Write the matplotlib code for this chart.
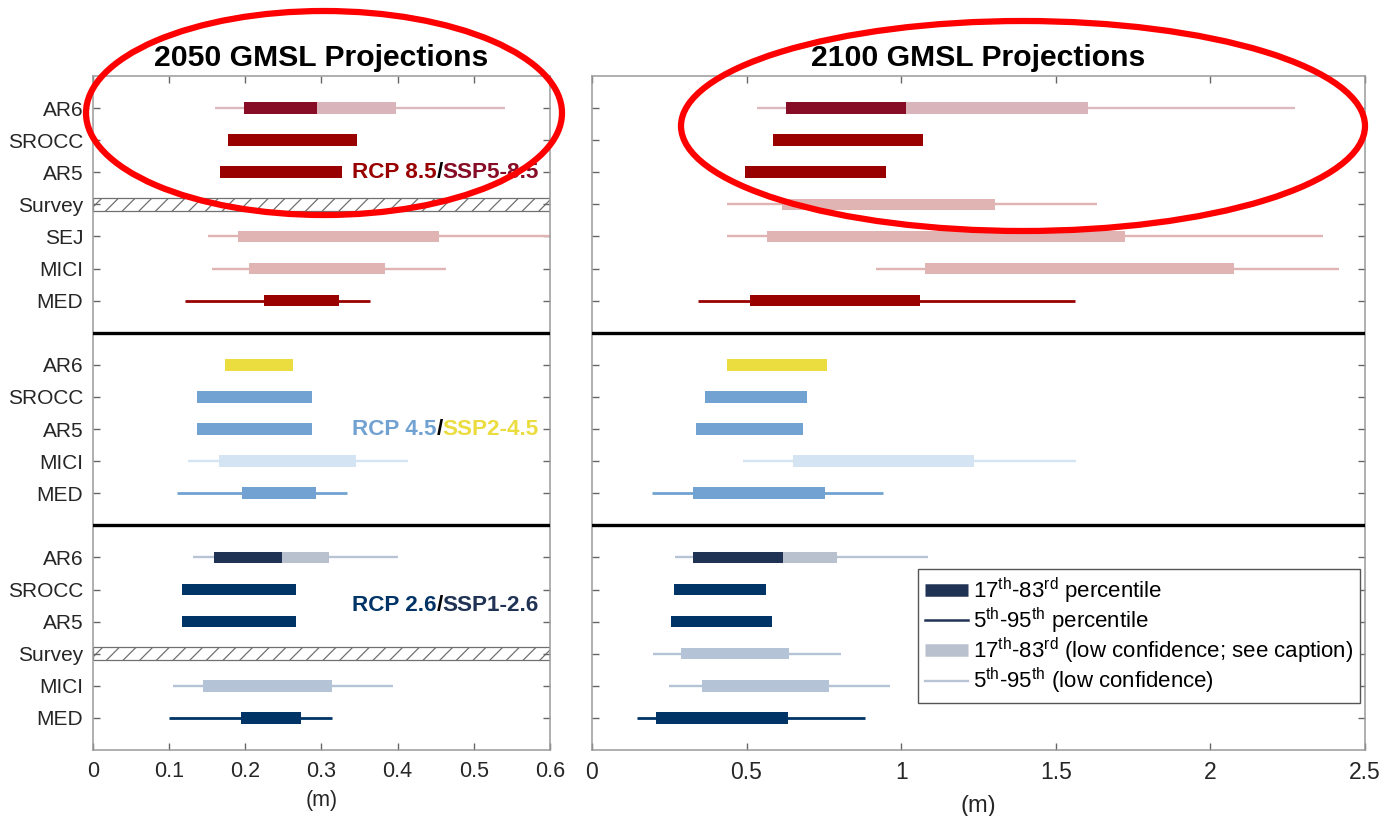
import numpy as np
import matplotlib
matplotlib.use('Agg')
import matplotlib.pyplot as plt
from matplotlib.lines import Line2D
from matplotlib.patches import Ellipse

plt.rcParams['font.family'] = ['Liberation Sans', 'DejaVu Sans']
plt.rcParams['mathtext.fontset'] = 'custom'
plt.rcParams['mathtext.rm'] = 'Liberation Sans'
plt.rcParams['mathtext.it'] = 'Liberation Sans:italic'
plt.rcParams['hatch.linewidth'] = 0.9

nan = np.nan

# row labels for each scenario block
labels_85 = ['AR6', 'SROCC', 'AR5', 'Survey', 'SEJ', 'MICI', 'MED']
labels_45 = ['AR6', 'SROCC', 'AR5', 'MICI', 'MED']
labels_26 = ['AR6', 'SROCC', 'AR5', 'Survey', 'MICI', 'MED']

# 2050 GMSL (m): 5th, 17th, 83rd, 95th percentiles
q05_2050_85 = [0.160, nan, nan, nan, 0.151, 0.156, 0.121]
q17_2050_85 = [0.198, 0.177, 0.167, nan, 0.190, 0.205, 0.225]
q83_2050_85 = [0.398, 0.347, 0.327, nan, 0.454, 0.384, 0.323]
q95_2050_85 = [0.541, nan, nan, nan, 0.600, 0.464, 0.364]

q05_2050_45 = [nan, nan, nan, 0.125, 0.111]
q17_2050_45 = [0.174, 0.137, 0.137, 0.165, 0.196]
q83_2050_45 = [0.263, 0.287, 0.287, 0.345, 0.293]
q95_2050_45 = [nan, nan, nan, 0.414, 0.334]

q05_2050_26 = [0.131, nan, nan, nan, 0.105, 0.100]
q17_2050_26 = [0.159, 0.117, 0.117, nan, 0.145, 0.195]
q83_2050_26 = [0.310, 0.267, 0.267, nan, 0.314, 0.273]
q95_2050_26 = [0.400, nan, nan, nan, 0.394, 0.314]

# 2100 GMSL (m)
q05_2100_85 = [0.535, nan, nan, 0.438, 0.438, 0.918, 0.344]
q17_2100_85 = [0.628, 0.585, 0.494, 0.616, 0.567, 1.077, 0.512]
q83_2100_85 = [1.605, 1.072, 0.952, 1.305, 1.725, 2.076, 1.061]
q95_2100_85 = [2.273, nan, nan, 1.634, 2.364, 2.415, 1.562]

q05_2100_45 = [nan, nan, nan, 0.488, 0.194]
q17_2100_45 = [0.438, 0.366, 0.336, 0.649, 0.326]
q83_2100_45 = [0.761, 0.694, 0.684, 1.234, 0.753]
q95_2100_45 = [nan, nan, nan, 1.565, 0.942]

q05_2100_26 = [0.270, nan, nan, 0.199, 0.249, 0.145]
q17_2100_26 = [0.328, 0.265, 0.255, 0.287, 0.357, 0.206]
q83_2100_26 = [0.794, 0.563, 0.583, 0.636, 0.766, 0.634]
q95_2100_26 = [1.087, nan, nan, 0.807, 0.965, 0.883]

# AR6 medium-confidence upper end (17th-83rd, dark part)
ar6_med_2050 = {'85': 0.294, '26': 0.248}
ar6_med_2100 = {'85': 1.015, '26': 0.618}

xticks_2050 = [0, 0.1, 0.2, 0.3, 0.4, 0.5, 0.6]
xticklabels_2050 = ['0', '0.1', '0.2', '0.3', '0.4', '0.5', '0.6']
xticks_2100 = [0, 0.5, 1, 1.5, 2, 2.5]
xticklabels_2100 = ['0', '0.5', '1', '1.5', '2', '2.5']

# colours per row (bar, whisker)
bar_85 = ['#d9b5bb', '#990000', '#990000', '#e1b4b4', '#e1b4b4', '#e1b4b4', '#990000']
line_85 = ['#dcb9bf', '#990000', '#990000', '#e1b4b4', '#e1b4b4', '#e1b4b4', '#990000']
bar_45 = ['#ebdc3f', '#71a2d2', '#71a2d2', '#d4e4f2', '#71a2d2']
line_45 = ['#ebdc3f', '#71a2d2', '#71a2d2', '#d4e4f2', '#71a2d2']
bar_26 = ['#b8c1cd', '#003366', '#003366', '#b4c4d6', '#b4c4d6', '#003366']
line_26 = ['#b8c4d3', '#003366', '#003366', '#b4c4d6', '#b4c4d6', '#003366']
ar6_dark = {'85': '#870c26', '26': '#203354'}
dark_lines = ['#990000', '#71a2d2', '#003366']

y_85 = np.arange(1, 8)
y_45 = np.arange(9, 14)
y_26 = np.arange(15, 21)

fig = plt.figure(figsize=(13.83, 8.16), dpi=100)
ax1 = fig.add_axes([0.0672, 0.0809, 0.3304, 0.826])
ax2 = fig.add_axes([0.428, 0.0809, 0.559, 0.826])


def draw_block(ax, ys, q05, q17, q83, q95, bars, lines, med=None, dark=None):
    for i, y in enumerate(ys):
        if not np.isnan(q05[i]):
            lw = 2.0 if lines[i] in dark_lines else 1.7
            ax.hlines(y, q05[i], q95[i], color=lines[i], lw=lw, zorder=2)
        if not np.isnan(q17[i]):
            ax.barh(y, q83[i] - q17[i], left=q17[i], height=0.36,
                    color=bars[i], zorder=3)
    if med is not None:
        ax.barh(ys[0], med - q17[0], left=q17[0], height=0.36,
                color=dark, zorder=4)


draw_block(ax1, y_85, q05_2050_85, q17_2050_85, q83_2050_85, q95_2050_85,
           bar_85, line_85, ar6_med_2050['85'], ar6_dark['85'])
draw_block(ax1, y_45, q05_2050_45, q17_2050_45, q83_2050_45, q95_2050_45,
           bar_45, line_45)
draw_block(ax1, y_26, q05_2050_26, q17_2050_26, q83_2050_26, q95_2050_26,
           bar_26, line_26, ar6_med_2050['26'], ar6_dark['26'])

draw_block(ax2, y_85, q05_2100_85, q17_2100_85, q83_2100_85, q95_2100_85,
           bar_85, line_85, ar6_med_2100['85'], ar6_dark['85'])
draw_block(ax2, y_45, q05_2100_45, q17_2100_45, q83_2100_45, q95_2100_45,
           bar_45, line_45)
draw_block(ax2, y_26, q05_2100_26, q17_2100_26, q83_2100_26, q95_2100_26,
           bar_26, line_26, ar6_med_2100['26'], ar6_dark['26'])

# no survey for 2050: hatched band
for y in [y_85[labels_85.index('Survey')], y_26[labels_26.index('Survey')]]:
    ax1.axhspan(y - 0.2, y + 0.2, facecolor='white', edgecolor='#707070',
                hatch='//', lw=0.9, zorder=1)

all_y = np.concatenate([y_85, y_45, y_26])
all_labels = labels_85 + labels_45 + labels_26

for ax, xt, xl, xmax in [(ax1, xticks_2050, xticklabels_2050, 0.6),
                         (ax2, xticks_2100, xticklabels_2100, 2.5)]:
    ax.set_xlim(0, xmax)
    ax.set_ylim(21, 0)
    ax.set_xticks(xt)
    ax.set_xticklabels(xl)
    ax.set_yticks(all_y)
    ax.axhline(8, color='black', lw=2.4, zorder=5)
    ax.axhline(14, color='black', lw=2.4, zorder=5)
    ax.tick_params(direction='in', length=5, width=1, color='#666666',
                   labelcolor='#262626', labelsize=15.5,
                   top=True, right=True, left=True, bottom=True, pad=8)
    for s in ax.spines.values():
        s.set_color('#9a9a9a')
        s.set_linewidth(1.1)

ax1.tick_params(axis='y', labelsize=15, pad=7)
ax2.tick_params(axis='x', labelsize=16.5, pad=8)
ax1.set_yticklabels(all_labels)
ax2.set_yticklabels([])

ax1.set_xlabel('(m)', fontsize=15.5, color='#262626', labelpad=6)
ax2.set_xlabel('(m)', fontsize=17, color='#262626', labelpad=8)
ax1.set_title('2050 GMSL Projections', fontweight='bold', fontsize=21.7, pad=7)
ax2.set_title('2100 GMSL Projections', fontweight='bold', fontsize=21.7, pad=7)


def multi_text(ax, x, y, pieces, size=16.2):
    t = ax.text(x, y, pieces[0][0], color=pieces[0][1], fontsize=size,
                fontweight='bold', va='center', ha='left', zorder=6)
    for txt, col in pieces[1:]:
        t = ax.annotate(txt, xy=(1, 0), xycoords=t, va='bottom', ha='left',
                        color=col, fontsize=size, fontweight='bold', zorder=6)


multi_text(ax1, 0.34, 3, [('RCP 8.5', '#990000'), ('/', 'black'),
                          ('SSP5-8.5', '#870c26')])
multi_text(ax1, 0.34, 11, [('RCP 4.5', '#71a2d2'), ('/', 'black'),
                           ('SSP2-4.5', '#ebdc3f')])
multi_text(ax1, 0.34, 16.5, [('RCP 2.6', '#003366'), ('/', 'black'),
                             ('SSP1-2.6', '#203354')])

handles = [
    Line2D([], [], color='#203354', lw=9, solid_capstyle='butt'),
    Line2D([], [], color='#203354', lw=1.8),
    Line2D([], [], color='#b8c1cd', lw=9, solid_capstyle='butt'),
    Line2D([], [], color='#b8c4d3', lw=1.7),
]
names = [
    '17$^{\\rm th}$-83$^{\\rm rd}$ percentile',
    '5$^{\\rm th}$-95$^{\\rm th}$ percentile',
    '17$^{\\rm th}$-83$^{\\rm rd}$ (low confidence; see caption)',
    '5$^{\\rm th}$-95$^{\\rm th}$ (low confidence)',
]
leg = ax2.legend(handles, names, loc='lower left',
                 bbox_to_anchor=(0.422, 0.07), fontsize=16,
                 handlelength=1.95, handletextpad=0.2, labelspacing=0.0,
                 borderpad=0.3, borderaxespad=0, fancybox=False, framealpha=1)
leg.get_frame().set_edgecolor('#555555')
leg.get_frame().set_linewidth(1.0)
leg.set_zorder(7)

# red highlight rings round the AR6/SROCC/AR5 high-emission rows
for cx, cy, w, h in [(324, 113, 476, 204), (1023, 126, 684, 210)]:
    fig.add_artist(Ellipse((cx / 100, (816 - cy) / 100), w / 100, h / 100,
                           transform=fig.dpi_scale_trans, fill=False,
                           edgecolor='#ff0000', lw=4.5, zorder=20))

fig.savefig('out.png', dpi=100)
